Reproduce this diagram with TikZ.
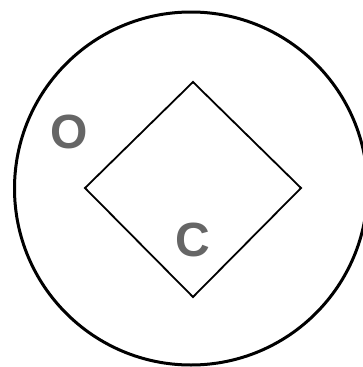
\documentclass[tikz,border=0pt]{standalone}
\usepackage{fontspec}
\setmainfont{Liberation Sans}
\definecolor{lblgray}{HTML}{666666}
\begin{document}
\begin{tikzpicture}[x=1pt,y=-1pt,
  lbl/.style={text=lblgray,font=\fontsize{48}{48}\selectfont\bfseries,inner sep=0pt,anchor=center},
  ring/.style={draw=black,line width=3pt},
  diam/.style={draw=black,line width=1.8pt,line join=miter}]
\useasboundingbox (0,0) rectangle (363,367);
\node[circle,ring,minimum size=353pt,inner sep=0pt] (outer) at (191,188.5) {};
\coordinate (dt) at (193,82);
\coordinate (dr) at (301,188);
\coordinate (db) at (193,297);
\coordinate (dl) at (85,188);
\draw[diam] (dt) -- (dr) -- (db) -- (dl) -- cycle;
\node[lbl] (o) at (69,132) {O};
\node[lbl] (c) at (193,239.5) {C};
\end{tikzpicture}
\end{document}
